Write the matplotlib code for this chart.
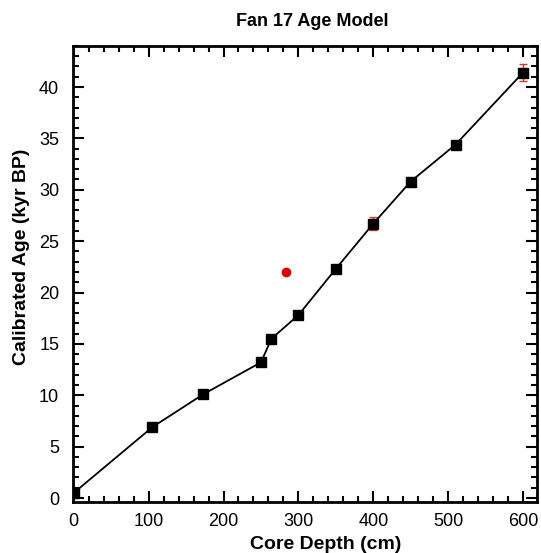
import matplotlib
matplotlib.use('Agg')
import matplotlib.pyplot as plt
from matplotlib.ticker import MultipleLocator

plt.rcParams['font.family'] = ['Liberation Sans', 'DejaVu Sans']

# age model tie points
depth = [0, 105, 173, 250, 264, 300, 350, 400, 450, 510, 600]
age = [0.5, 6.9, 10.1, 13.2, 15.5, 17.8, 22.3, 26.7, 30.8, 34.4, 41.4]
age_err = [0, 0, 0, 0, 0, 0, 0, 0.6, 0, 0, 0.8]

# rejected date
out_depth = [283]
out_age = [22.0]

fig = plt.figure(figsize=(5.41, 5.53), dpi=100)
ax = fig.add_axes([0.135, 0.092, 0.858, 0.825])

ax.errorbar(depth, age, yerr=age_err, fmt='none', ecolor='#e03030',
            elinewidth=1, capsize=3, capthick=1, zorder=2)
ax.plot(depth, age, color='black', lw=1.3, marker='s', ms=7, zorder=3)
ax.plot(out_depth, out_age, 'o', color='#dd0000', ms=6, zorder=3)

ax.set_xlim(-1, 619)
ax.set_ylim(-0.4, 44)
ax.xaxis.set_major_locator(MultipleLocator(100))
ax.xaxis.set_minor_locator(MultipleLocator(20))
ax.yaxis.set_major_locator(MultipleLocator(5))
ax.yaxis.set_minor_locator(MultipleLocator(1))
ax.tick_params(which='both', direction='in', top=True, right=True, width=1.5, labelsize=13)
ax.tick_params(which='major', length=8)
ax.tick_params(which='minor', length=4)
ax.tick_params(axis='x', which='major', pad=8)
ax.tick_params(axis='y', which='major', pad=10)
for s in ax.spines.values():
    s.set_linewidth(2)

ax.set_title('Fan 17 Age Model', fontsize=13, fontweight='bold', x=0.515, pad=14)
ax.set_xlabel('Core Depth (cm)', fontsize=14, fontweight='bold')
ax.set_ylabel('Calibrated Age (kyr BP)', fontsize=14, fontweight='bold')
ax.xaxis.set_label_coords(0.545, -0.075)
ax.yaxis.set_label_coords(-0.093, 0.537)

fig.savefig('out.png', dpi=100)
